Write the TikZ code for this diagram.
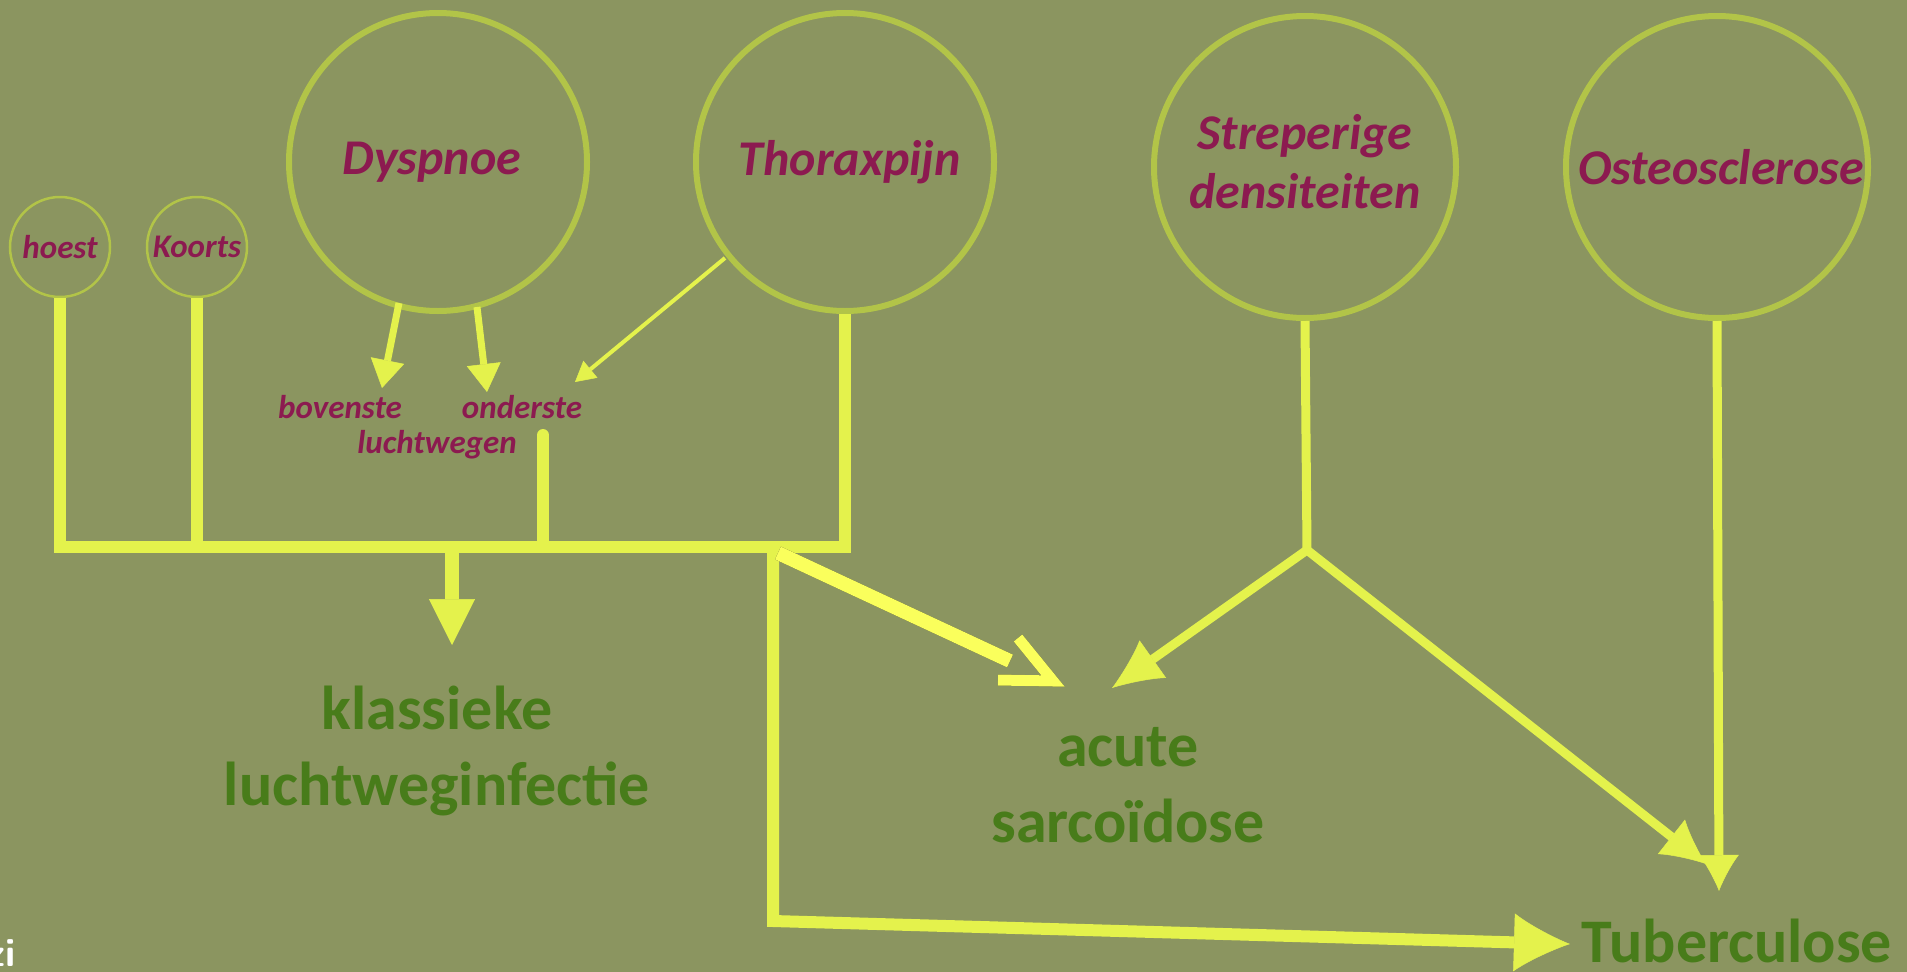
\documentclass[tikz,border=0pt]{standalone}
\usepackage{fontspec}
\setmainfont{Carlito}
\usetikzlibrary{arrows.meta}
\definecolor{bg}{RGB}{139,149,96}
\definecolor{ring}{RGB}{178,196,72}
\definecolor{yl}{RGB}{228,242,76}
\definecolor{ylb}{RGB}{250,255,92}
\definecolor{shd}{RGB}{72,74,42}
\definecolor{mag}{RGB}{140,26,80}
\definecolor{grn}{RGB}{72,124,26}
\begin{document}
\begin{tikzpicture}[x=1pt,y=-1pt,
  bigc/.style={circle,draw=ring,line width=6pt,minimum size=298pt,inner sep=0pt,text=mag,
    font=\fontsize{50}{59}\selectfont\bfseries\itshape,align=center},
  smallc/.style={circle,draw=ring,line width=2.5pt,minimum size=100pt,inner sep=0pt,text=mag,
    font=\fontsize{33}{40}\selectfont\bfseries\itshape},
  lbl/.style={text=mag,font=\fontsize{33}{36}\selectfont\bfseries\itshape,inner sep=0pt},
  res/.style={text=grn,font=\fontsize{62}{76}\selectfont\bfseries,align=center,inner sep=0pt},
  conn/.style={draw=yl,line width=12pt,line join=miter},
  thinconn/.style={draw=yl,line width=9pt},
  smallarrow/.style={draw=yl,line width=7pt,-{Triangle[length=28pt,width=34pt,line width=0.5pt,fill=yl]}},
  shadowed/.style={line width=14pt,line join=miter},
]
\useasboundingbox (0,0) rectangle (1907,972);
\fill[bg] (0,0) rectangle (1907,972);

% circles
\node[smallc] (hoest) at (60,247) {hoest};
\node[smallc] (koorts) at (197,247) {Koorts};
\node[bigc] (dys) at (438,162) {Dyspnoe\hspace*{12pt}};
\node[bigc] (thor) at (845,162) {\hspace*{10pt}Thoraxpijn};
\node[bigc, minimum size=302pt] (strep) at (1305,167) {\raisebox{4pt}{\begin{tabular}{@{}c@{}}Streperige\\densiteiten\end{tabular}}};
\node[bigc, minimum size=302pt] (osteo) at (1717,167) {\hspace*{8pt}Osteosclerose};

% labels
\node[lbl, anchor=base] (bov) at (340,418) {bovenste};
\node[lbl, anchor=base] (ond) at (522,418) {onderste};
\node[lbl, anchor=base] (lucht) at (437,453) {luchtwegen};

% results
\node[res] (klas) at (437,751) {klassieke\\luchtweginfectie};
\node[res] (acute) at (1128,785) {acute\\sarco\"idose};
\node[res, anchor=base] (tub) at (1737,962) {Tuberculose};

\node[anchor=base east, text=white, inner sep=0pt,
  font=\sffamily\bfseries\fontsize{40}{40}\selectfont] (prezi) at (16,966) {zi};

% coordinates
\coordinate (bar) at (452,547);
\coordinate (jt) at (773,547);
\coordinate (ondl) at (543,435);
\coordinate (klastip) at (452,645);
\coordinate (d1s) at (399,303);
\coordinate (d1t) at (382,388);
\coordinate (d2s) at (477,307);
\coordinate (d2t) at (487,392);
\coordinate (t1s) at (725,258);
\coordinate (t1t) at (575,382);
\coordinate (corner) at (773,921);
\coordinate (tubtip) at (1570,944);
\coordinate (fork) at (1307,550);
\coordinate (acutetip) at (1112,688);
\coordinate (tubtip2) at (1706,864);
\coordinate (osteotip) at (1719,891);
\coordinate (sa1) at (778,553);
\coordinate (sa2) at (1010,661);
\coordinate (ch1) at (1018,638);
\coordinate (ch2) at (1053,681);
\coordinate (ch3) at (998,680);

% main bar
\draw[conn] (hoest.south) |- (thor.south |- bar) -- (thor.south);
\draw[conn] (koorts.south) -- (koorts.south |- bar);
\draw[conn, line cap=round] (ondl) -- (ondl |- bar);
\draw[conn, line width=14pt, -{Triangle[length=46pt,width=46pt,line width=0.5pt,fill=yl]}] (bar) -- (klastip);

% dyspnoe arrows
\draw[smallarrow] (d1s) -- (d1t);
\draw[smallarrow] (d2s) -- (d2t);
\draw[draw=yl, line width=4pt, -{Triangle[length=20pt,width=22pt,line width=0.5pt,fill=yl]}] (t1s) -- (t1t);

% to tuberculose
\draw[conn, -{Latex[length=56pt,width=58pt,line width=0.5pt,fill=yl]}] (jt) -- (corner) -- (tubtip);

% streperige
\draw[thinconn] (strep.south) -- (fork);
\draw[thinconn, -{Latex[length=50pt,width=46pt,line width=0.5pt,fill=yl]}] (fork) -- (acutetip);
\draw[thinconn, -{Latex[length=44pt,width=44pt,line width=0.5pt,fill=yl]}] (fork) -- (tubtip2);
\draw[thinconn, -{Latex[length=36pt,width=40pt,line width=0.5pt,fill=yl]}] (osteo.south) -- (osteotip);

% shadowed arrow
\begin{scope}[xshift=-3pt, yshift=-4pt]
\draw[shadowed, draw=shd] (sa1) -- (sa2);
\draw[shadowed, draw=shd, line width=11pt] (ch1) -- (ch2) -- (ch3);
\end{scope}
\draw[shadowed, draw=ylb] (sa1) -- (sa2);
\draw[shadowed, draw=ylb, line width=11pt] (ch1) -- (ch2) -- (ch3);
\end{tikzpicture}
\end{document}
